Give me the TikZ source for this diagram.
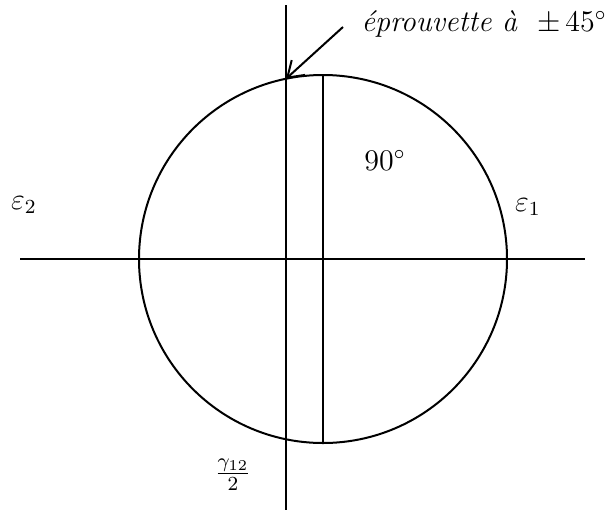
\documentclass[tikz,border=0pt]{standalone}
\usepackage{tikz}
\usetikzlibrary{arrows.meta, calc, positioning}

\begin{document}
\begin{tikzpicture}[x=0.4pt, y=-0.4pt, line width=0.8pt,
    axe/.style={line width=0.8pt},
    lbl/.style={inner sep=1pt, font=\large}]
  \useasboundingbox (0,0) rectangle (605,513);
  % centre du cercle de Mohr
  \coordinate (O) at (323,259);
  \coordinate (axeG) at (20,259);
  \coordinate (axeD) at (585,259);
  \coordinate (axeH) at (286,5);
  \coordinate (axeB) at (286,510);
  \coordinate (haut) at (323,75);
  \coordinate (bas) at (323,443);
  \coordinate (pointe) at (286,78.8);
  \coordinate (depart) at (343,27);

  % axes
  \draw[axe] (axeG) -- (axeD);
  \draw[axe] (axeH) -- (axeB);
  % cercle et diametre vertical
  \draw (O) circle[radius=184*0.4pt];
  \draw (haut) -- (bas);

  % etiquettes
  \node[lbl] (eps2) at (24,205) {$\varepsilon_2$};
  \node[lbl] (eps1) at (528,207) {$\varepsilon_1$};
  \node[lbl] (angle) at (385,160) {$90^\circ$};
  \node[lbl] (gamma) at (233,475) {$\frac{\gamma_{12}}{2}$};
  \node[lbl, anchor=west] (eprouvette) at (358,24) {\textit{éprouvette à} \ $\pm\,45^\circ$};

  \draw[-{Straight Barb[length=6pt, width=8pt]}] (depart) -- (pointe);
\end{tikzpicture}
\end{document}
